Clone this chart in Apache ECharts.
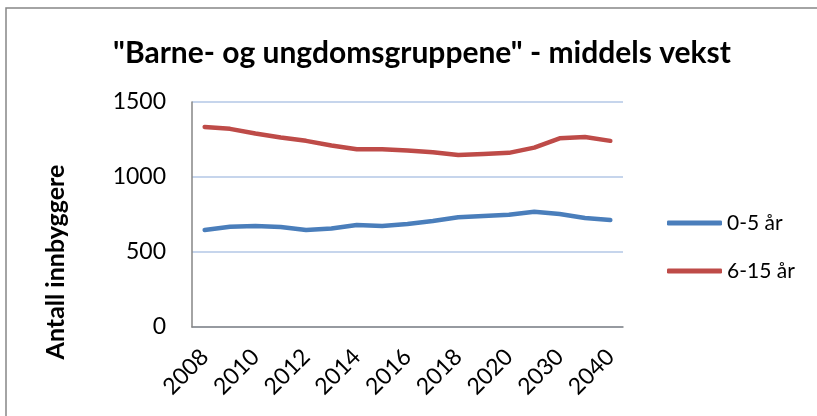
<!DOCTYPE html>
<html lang="no">
<head>
    <meta charset="UTF-8">
    <title>Barne- og ungdomsgruppene</title>
    <script src="https://cdn.jsdelivr.net/npm/echarts@6/dist/echarts.min.js"></script>
    <style>
        html, body { margin: 0; padding: 0; background: #fff; }
        #chart { width: 817px; height: 416px; }
    </style>
</head>
<body>
    <div id="chart"></div>
    <script>
        // år (etiketter vises for annethvert år)
        var years = ['2008', '2009', '2010', '2011', '2012', '2013', '2014', '2015', '2016',
                     '2017', '2018', '2019', '2020', '2025', '2030', '2035', '2040'];

        var age0to5 = [647, 669, 674, 667, 647, 656, 680, 674, 687, 707, 731, 740, 749, 769, 753, 727, 713];
        var age6to15 = [1334, 1321, 1290, 1263, 1241, 1210, 1185, 1185, 1177, 1165, 1146, 1154, 1161, 1196, 1258, 1267, 1241];

        var seriesNames = ['0-5 år', '6-15 år'];
        var yTicks = [0, 500, 1000, 1500];

        var font = 'Lato, "Open Sans", sans-serif';

        var chart = echarts.init(document.getElementById('chart'));

        var option = {
            backgroundColor: '#fff',
            animation: false,
            color: ['#4a7ebb', '#be4b48'],
            title: {
                text: '"Barne- og ungdomsgruppene" - middels vekst',
                left: 417,
                top: 33,
                textAlign: 'center',
                textStyle: {
                    fontFamily: font,
                    fontWeight: 'bold',
                    fontSize: 30,
                    color: '#000'
                }
            },
            graphic: [
                {
                    type: 'rect',
                    shape: { x: 6, y: 8, width: 900, height: 500 },
                    style: { fill: null, stroke: '#868686', lineWidth: 1.5 },
                    silent: true
                },
                {
                    // y-aksens tittel
                    type: 'text',
                    x: 56,
                    y: 262,
                    rotation: Math.PI / 2,
                    style: {
                        text: 'Antall innbyggere',
                        fontFamily: font,
                        fontWeight: 'bold',
                        fontSize: 25,
                        fill: '#000',
                        align: 'center',
                        verticalAlign: 'middle'
                    },
                    silent: true
                }
            ],
            legend: {
                orient: 'vertical',
                left: 667,
                top: 211,
                padding: 0,
                itemWidth: 55,
                itemHeight: 5,
                itemGap: 24,
                icon: 'roundRect',
                textStyle: {
                    fontFamily: font,
                    fontSize: 21,
                    lineHeight: 24,
                    color: '#000'
                },
                data: seriesNames
            },
            grid: {
                left: 192,
                right: 194,
                top: 102,
                bottom: 89,
                containLabel: false
            },
            xAxis: {
                type: 'category',
                data: years,
                boundaryGap: true,
                axisLine: { lineStyle: { color: '#868686', width: 1.5 } },
                axisTick: { show: false },
                axisLabel: {
                    interval: 1,
                    rotate: 45,
                    margin: 26,
                    fontFamily: font,
                    fontSize: 23,
                    color: '#000',
                    padding: [0, 0, 0, 0]
                }
            },
            yAxis: {
                type: 'value',
                min: yTicks[0],
                max: yTicks[yTicks.length - 1],
                interval: 500,
                axisLine: { show: true, lineStyle: { color: '#868686', width: 1.5 } },
                axisTick: { show: false },
                axisLabel: {
                    margin: 26,
                    fontFamily: font,
                    fontSize: 23,
                    color: '#000',
                    formatter: function (v) { return String(v); }
                },
                splitLine: { lineStyle: { color: '#b3c7e6', width: 1.5 } }
            },
            series: [
                {
                    name: seriesNames[0],
                    type: 'line',
                    data: age0to5,
                    symbol: 'none',
                    lineStyle: { width: 4.5, cap: 'round', join: 'round' }
                },
                {
                    name: seriesNames[1],
                    type: 'line',
                    data: age6to15,
                    symbol: 'none',
                    lineStyle: { width: 4.5, cap: 'round', join: 'round' }
                }
            ]
        };

        chart.setOption(option);
    </script>
</body>
</html>
